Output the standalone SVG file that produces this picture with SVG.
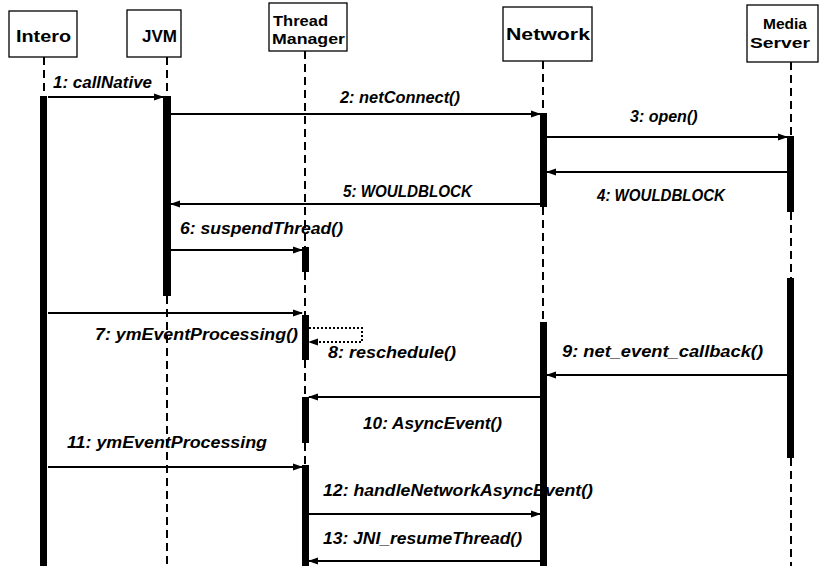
<svg xmlns="http://www.w3.org/2000/svg" width="820" height="566" viewBox="0 0 820 566">
  <style>
    .box { fill: #fff; stroke: #000; stroke-width: 1.3; }
    .name { font-family: "Liberation Sans", Arial, sans-serif; font-size: 17px; font-weight: bold; fill: #000; }
    .name2 { font-family: "Liberation Sans", Arial, sans-serif; font-size: 15px; font-weight: bold; fill: #000; }
    .life { stroke: #000; stroke-width: 2; stroke-dasharray: 8 5; fill: none; }
    .act { fill: #000; }
    .msg { stroke: #000; stroke-width: 2; fill: none; marker-end: url(#head); }
    .self { stroke: #000; stroke-width: 2; stroke-dasharray: 2 2; fill: none; marker-end: url(#head); }
    .lbl { font-family: "Liberation Sans", Arial, sans-serif; font-size: 16px; font-weight: bold; font-style: italic; fill: #000; }
  </style>
  <defs>
    <marker id="head" markerUnits="userSpaceOnUse" markerWidth="10" markerHeight="8" refX="9" refY="4" orient="auto">
      <path d="M0,0.5 L10,4 L0,7.5 z" fill="#000"/>
    </marker>
  </defs>
  <rect width="820" height="566" fill="#fff"/>

  <!-- participants with their lifelines and activation bars -->
  <g id="intero">
    <rect class="box" x="9" y="11" width="68" height="46"/>
    <text class="name" x="16" y="42" textLength="55" lengthAdjust="spacingAndGlyphs">Intero</text>
    <line class="life" x1="44" y1="57" x2="44" y2="97"/>
    <rect class="act" x="40" y="96" width="7" height="470"/>
  </g>

  <g id="jvm">
    <rect class="box" x="127" y="10" width="54" height="47"/>
    <text class="name" x="142" y="42" textLength="35" lengthAdjust="spacingAndGlyphs">JVM</text>
    <line class="life" x1="167" y1="57" x2="167" y2="97"/>
    <rect class="act" x="163" y="96" width="8" height="200"/>
    <line class="life" x1="167" y1="296" x2="167" y2="566"/>
  </g>

  <g id="thread-manager">
    <rect class="box" x="269" y="3" width="78" height="48"/>
    <text class="name2" x="273" y="26" textLength="55" lengthAdjust="spacingAndGlyphs">Thread</text>
    <text class="name2" x="272" y="44" textLength="73" lengthAdjust="spacingAndGlyphs">Manager</text>
    <line class="life" x1="305" y1="51" x2="305" y2="247"/>
    <rect class="act" x="302" y="247" width="7" height="25"/>
    <line class="life" x1="305" y1="272" x2="305" y2="315"/>
    <rect class="act" x="302" y="315" width="7" height="45"/>
    <line class="life" x1="305" y1="360" x2="305" y2="397"/>
    <rect class="act" x="302" y="397" width="7" height="46"/>
    <line class="life" x1="305" y1="443" x2="305" y2="465"/>
    <rect class="act" x="302" y="465" width="7" height="101"/>
  </g>

  <g id="network">
    <rect class="box" x="503" y="7" width="89" height="54"/>
    <text class="name" x="506" y="40" textLength="84" lengthAdjust="spacingAndGlyphs">Network</text>
    <line class="life" x1="543" y1="61" x2="543" y2="113"/>
    <rect class="act" x="540" y="113" width="7" height="94"/>
    <line class="life" x1="543" y1="207" x2="543" y2="322"/>
    <rect class="act" x="540" y="322" width="7" height="244"/>
  </g>

  <g id="media-server">
    <rect class="box" x="747" y="5" width="71" height="57"/>
    <text class="name2" x="763" y="29" textLength="44" lengthAdjust="spacingAndGlyphs">Media</text>
    <text class="name2" x="750" y="48" textLength="60" lengthAdjust="spacingAndGlyphs">Server</text>
    <line class="life" x1="791" y1="62" x2="791" y2="137"/>
    <rect class="act" x="787" y="136" width="7" height="76"/>
    <line class="life" x1="791" y1="212" x2="791" y2="278"/>
    <rect class="act" x="787" y="278" width="7" height="180"/>
    <line class="life" x1="791" y1="458" x2="791" y2="566"/>
  </g>

  <!-- messages -->
  <g id="messages">
    <line class="msg" x1="48" y1="97" x2="163" y2="97"/>
    <line class="msg" x1="171" y1="114" x2="540" y2="114"/>
    <line class="msg" x1="547" y1="137" x2="787" y2="137"/>
    <line class="msg" x1="787" y1="172" x2="547" y2="172"/>
    <line class="msg" x1="540" y1="204" x2="171" y2="204"/>
    <line class="msg" x1="171" y1="250" x2="302" y2="250"/>
    <line class="msg" x1="48" y1="313" x2="302" y2="313"/>
    <polyline class="self" points="309,328 362,328 362,342 309,342"/>
    <line class="msg" x1="787" y1="375" x2="547" y2="375"/>
    <line class="msg" x1="540" y1="397" x2="309" y2="397"/>
    <line class="msg" x1="48" y1="467" x2="302" y2="467"/>
    <line class="msg" x1="309" y1="514" x2="540" y2="514"/>
    <line class="msg" x1="540" y1="561" x2="309" y2="561"/>
  </g>

  <!-- message labels -->
  <g id="labels">
    <text class="lbl" x="53" y="88" textLength="99" lengthAdjust="spacingAndGlyphs">1: callNative</text>
    <text class="lbl" x="340" y="103" textLength="120" lengthAdjust="spacingAndGlyphs">2: netConnect()</text>
    <text class="lbl" x="630" y="122">3: open()</text>
    <text class="lbl" x="597" y="201" textLength="128" lengthAdjust="spacingAndGlyphs">4: WOULDBLOCK</text>
    <text class="lbl" x="343" y="197" textLength="129" lengthAdjust="spacingAndGlyphs">5: WOULDBLOCK</text>
    <text class="lbl" x="180" y="234" textLength="163" lengthAdjust="spacingAndGlyphs">6: suspendThread()</text>
    <text class="lbl" x="95" y="340" textLength="203" lengthAdjust="spacingAndGlyphs">7: ymEventProcessing()</text>
    <text class="lbl" x="328" y="358" textLength="128" lengthAdjust="spacingAndGlyphs">8: reschedule()</text>
    <text class="lbl" x="562" y="357" textLength="201" lengthAdjust="spacingAndGlyphs">9: net_event_callback()</text>
    <text class="lbl" x="363" y="429" textLength="139" lengthAdjust="spacingAndGlyphs">10: AsyncEvent()</text>
    <text class="lbl" x="67" y="448" textLength="200" lengthAdjust="spacingAndGlyphs">11: ymEventProcessing</text>
    <text class="lbl" x="323" y="496" textLength="270" lengthAdjust="spacingAndGlyphs">12: handleNetworkAsyncEvent()</text>
    <text class="lbl" x="323" y="544" textLength="199" lengthAdjust="spacingAndGlyphs">13: JNI_resumeThread()</text>
  </g>
</svg>
